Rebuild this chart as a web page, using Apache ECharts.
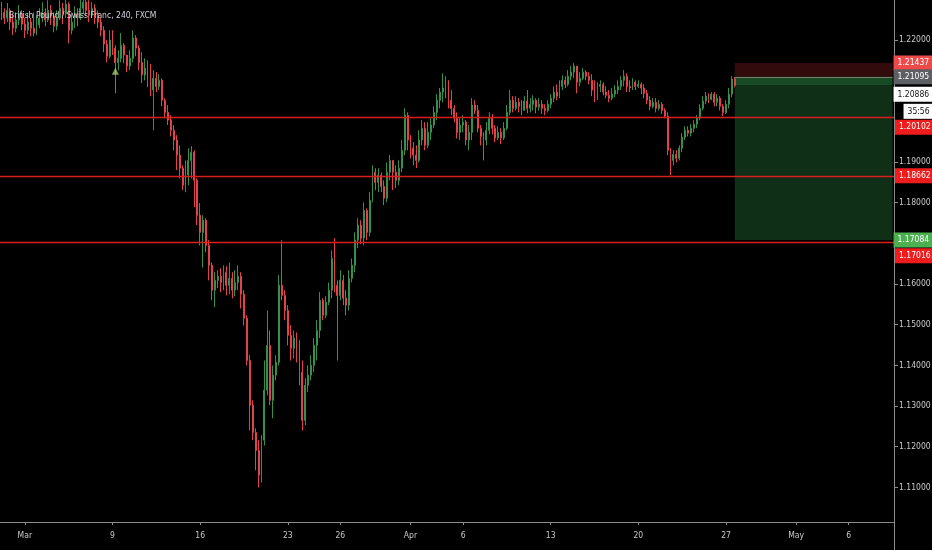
<!DOCTYPE html>
<html><head><meta charset="utf-8">
<script src="https://cdn.jsdelivr.net/npm/echarts@6/dist/echarts.min.js"></script>
<style>html,body{margin:0;padding:0;background:#000;}#c{width:932px;height:550px;}</style>
</head><body><div id="c"></div>
<script>
// ---- data (4h bars, bar 0 = first bar of Mar 2) ----
const firstBar = -8;
const lastBar = 297;
const firstOpen = 1.2280;
const closes = [
1.2268,1.2254,1.2273,1.2244,1.2229,1.2249,1.2264,1.2239,1.2224,1.2244,
1.2229,1.2217,1.2237,1.2254,1.2268,1.2249,1.2273,1.2259,1.2234,1.2254,
1.2278,1.2264,1.2288,1.2224,1.2244,1.2264,1.2254,1.2278,1.2293,1.2273,
1.2261,1.2278,1.2264,1.2244,1.2224,1.2190,1.2160,1.2200,1.2180,1.2145,
1.2155,1.2187,1.2163,1.2136,1.2155,1.2205,1.2180,1.2145,1.2114,1.2131,
1.2101,1.2077,1.2106,1.2086,1.2101,1.2052,1.2022,1.2003,1.1978,1.1954,
1.1917,1.1885,1.1843,1.1868,1.1904,1.1924,1.1855,1.1769,1.1727,1.1757,
1.1695,1.1646,1.1585,1.1609,1.1619,1.1604,1.1629,1.1597,1.1614,1.1585,
1.1604,1.1619,1.1575,1.1516,1.1412,1.1302,1.1235,1.1191,1.1130,1.1216,
1.1339,1.1449,1.1314,1.1376,1.1408,1.1597,1.1572,1.1535,1.1474,1.1442,
1.1467,1.1437,1.1383,1.1265,1.1351,1.1376,1.1400,1.1449,1.1486,1.1560,
1.1523,1.1555,1.1585,1.1663,1.1597,1.1572,1.1609,1.1565,1.1548,1.1614,
1.1646,1.1708,1.1745,1.1713,1.1781,1.1727,1.1806,1.1875,1.1850,1.1868,
1.1840,1.1811,1.1875,1.1904,1.1875,1.1855,1.1885,1.1929,1.2015,1.1954,
1.1934,1.1917,1.1904,1.1954,1.1983,1.1941,1.1973,1.1991,1.2022,1.2052,
1.2072,1.2082,1.2089,1.2052,1.2032,1.2008,1.1973,1.1991,1.1998,1.1954,
1.1973,1.2040,1.2027,1.1983,1.1963,1.1954,1.1978,1.2008,1.1983,1.1959,
1.1973,1.1959,1.1983,1.2022,1.2052,1.2032,1.2047,1.2037,1.2027,1.2050,
1.2032,1.2042,1.2052,1.2035,1.2042,1.2032,1.2027,1.2042,1.2057,1.2072,
1.2062,1.2086,1.2101,1.2091,1.2111,1.2121,1.2136,1.2096,1.2106,1.2121,
1.2111,1.2101,1.2077,1.2057,1.2086,1.2091,1.2072,1.2064,1.2057,1.2067,
1.2077,1.2086,1.2101,1.2111,1.2086,1.2082,1.2096,1.2086,1.2091,1.2082,
1.2069,1.2052,1.2037,1.2047,1.2032,1.2042,1.2027,1.2013,1.1929,1.1904,
1.1919,1.1909,1.1934,1.1961,1.1978,1.1971,1.1983,1.1993,1.2008,1.2032,
1.2050,1.2062,1.2054,1.2067,1.2047,1.2057,1.2037,1.2022,1.2042,1.2067,
1.2104,1.20886
];
const highs = [
1.2293,1.2278,1.2291,1.2278,1.2261,1.2268,1.2286,1.2273,1.2254,1.2264,
1.2254,1.2268,1.2261,1.2278,1.2293,1.2278,1.2298,1.2286,1.2268,1.2273,
1.2298,1.2291,1.2310,1.2293,1.2268,1.2283,1.2278,1.2310,1.2310,1.2303,
1.2298,1.2293,1.2288,1.2273,1.2254,1.2234,1.2200,1.2224,1.2224,1.2187,
1.2175,1.2217,1.2192,1.2163,1.2175,1.2224,1.2212,1.2187,1.2170,1.2155,
1.2150,1.2141,1.2126,1.2121,1.2116,1.2106,1.2057,1.2040,1.2015,1.1991,
1.1966,1.1941,1.1892,1.1904,1.1934,1.1939,1.1929,1.1860,1.1799,1.1769,
1.1762,1.1708,1.1653,1.1629,1.1634,1.1639,1.1646,1.1644,1.1653,1.1629,
1.1634,1.1646,1.1629,1.1585,1.1523,1.1425,1.1314,1.1245,1.1216,1.1228,
1.1412,1.1535,1.1486,1.1400,1.1425,1.1622,1.1708,1.1585,1.1548,1.1499,
1.1486,1.1481,1.1462,1.1412,1.1368,1.1400,1.1425,1.1467,1.1511,1.1580,
1.1565,1.1570,1.1604,1.1683,1.1713,1.1609,1.1634,1.1622,1.1585,1.1634,
1.1663,1.1727,1.1762,1.1757,1.1801,1.1786,1.1826,1.1892,1.1885,1.1885,
1.1875,1.1855,1.1899,1.1917,1.1904,1.1892,1.1904,1.1954,1.2032,1.2022,
1.1966,1.1949,1.1941,1.1978,1.2003,1.1998,1.1998,1.2008,1.2037,1.2067,
1.2082,1.2118,1.2111,1.2101,1.2077,1.2040,1.2022,1.2008,1.2015,1.2003,
1.1991,1.2057,1.2052,1.2040,1.1991,1.1973,1.1998,1.2022,1.2018,1.1991,
1.1988,1.1983,1.1998,1.2040,1.2077,1.2062,1.2062,1.2057,1.2052,1.2062,
1.2077,1.2057,1.2064,1.2057,1.2057,1.2052,1.2042,1.2052,1.2067,1.2086,
1.2091,1.2101,1.2113,1.2111,1.2126,1.2136,1.2143,1.2136,1.2121,1.2131,
1.2126,1.2121,1.2116,1.2101,1.2096,1.2101,1.2096,1.2086,1.2077,1.2082,
1.2089,1.2101,1.2111,1.2126,1.2118,1.2101,1.2106,1.2101,1.2101,1.2096,
1.2091,1.2077,1.2062,1.2057,1.2057,1.2052,1.2047,1.2032,1.2022,1.1934,
1.1929,1.1929,1.1941,1.1971,1.1988,1.1988,1.1993,1.2003,1.2015,1.2042,
1.2062,1.2072,1.2069,1.2072,1.2072,1.2067,1.2062,1.2042,1.2052,1.2082,
1.2111,1.2109
];
const lows = [
1.2249,1.2239,1.2244,1.2224,1.2212,1.2219,1.2237,1.2224,1.2205,1.2214,
1.2209,1.2209,1.2212,1.2229,1.2244,1.2234,1.2244,1.2237,1.2219,1.2224,
1.2249,1.2239,1.2254,1.2192,1.2214,1.2229,1.2234,1.2249,1.2264,1.2259,
1.2244,1.2254,1.2239,1.2229,1.2209,1.2170,1.2145,1.2155,1.2163,1.2069,
1.2126,1.2145,1.2143,1.2121,1.2126,1.2145,1.2160,1.2126,1.2094,1.2101,
1.2084,1.2062,1.1978,1.2072,1.2077,1.2037,1.2008,1.1991,1.1963,1.1929,
1.1880,1.1860,1.1831,1.1826,1.1843,1.1860,1.1789,1.1745,1.1695,1.1641,
1.1678,1.1609,1.1560,1.1543,1.1590,1.1580,1.1585,1.1572,1.1575,1.1565,
1.1570,1.1585,1.1540,1.1498,1.1400,1.1240,1.1216,1.1142,1.1100,1.1112,
1.1203,1.1326,1.1302,1.1270,1.1363,1.1400,1.1560,1.1511,1.1449,1.1412,
1.1417,1.1407,1.1351,1.1240,1.1253,1.1334,1.1363,1.1383,1.1412,1.1467,
1.1511,1.1516,1.1548,1.1565,1.1580,1.1412,1.1560,1.1548,1.1523,1.1535,
1.1604,1.1629,1.1688,1.1698,1.1695,1.1708,1.1717,1.1801,1.1831,1.1826,
1.1826,1.1794,1.1801,1.1855,1.1831,1.1836,1.1843,1.1875,1.1917,1.1929,
1.1909,1.1892,1.1885,1.1899,1.1941,1.1929,1.1934,1.1954,1.1983,1.2003,
1.2032,1.2047,1.2057,1.2032,1.2015,1.1998,1.1958,1.1954,1.1973,1.1941,
1.1929,1.1954,1.2018,1.1973,1.1941,1.1904,1.1941,1.1968,1.1968,1.1949,
1.1954,1.1944,1.1954,1.1978,1.2015,1.2022,1.2027,1.2022,1.2015,1.2027,
1.2020,1.2022,1.2027,1.2020,1.2027,1.2018,1.2015,1.2022,1.2032,1.2047,
1.2052,1.2057,1.2077,1.2082,1.2086,1.2101,1.2106,1.2069,1.2086,1.2101,
1.2101,1.2091,1.2062,1.2047,1.2052,1.2072,1.2064,1.2057,1.2047,1.2052,
1.2059,1.2067,1.2077,1.2086,1.2072,1.2072,1.2077,1.2077,1.2082,1.2067,
1.2057,1.2042,1.2027,1.2032,1.2022,1.2027,1.2018,1.2008,1.1917,1.1868,
1.1892,1.1899,1.1904,1.1924,1.1954,1.1963,1.1963,1.1973,1.1983,1.2003,
1.2027,1.2042,1.2045,1.2052,1.2037,1.2037,1.2027,1.2013,1.2018,1.2032,
1.2059,1.2084
];
const tickBars = [0, 30, 60, 90, 108, 132, 150, 180, 210, 240, 264, 282];
const tickLabels = ['Mar', '9', '16', '23', '26', 'Apr', '6', '13', '20', '27', 'May', '6'];
const priceTicks = [1.11, 1.12, 1.13, 1.14, 1.15, 1.16, 1.17, 1.18, 1.19, 1.20, 1.21, 1.22];
const priceLabels = [1.11, 1.12, 1.13, 1.14, 1.15, 1.16, 1.18, 1.19, 1.22];
const levelLines = [1.20102, 1.18662, 1.17016];
const levelOffsets = [10, 0, 13];
const stopPrice = 1.21437;
const entryPrice = 1.21095;
const targetPrice = 1.17084;
const currentPrice = 1.20886;
const countdown = '35:56';
const positionStartBar = 243;
const signalBar = 31;
const signalPrice = 1.2123;
const titleText = 'British Pound / Swiss Franc, 240, FXCM';

// ---- build ----
const FONT = "'DejaVu Sans Condensed','Liberation Sans Narrow',sans-serif";
const cats = [];
for (let b = firstBar; b <= lastBar; b++) cats.push(String(b));
const candles = closes.map((c, k) => [k === 0 ? firstOpen : closes[k - 1], c, lows[k], highs[k]]);
const tickMap = {};
tickBars.forEach((b, j) => { tickMap[b - firstBar] = tickLabels[j]; });
const isTick = idx => tickMap[idx] !== undefined;
const sCat = String(positionStartBar), eCat = String(lastBar);

const badge = (bg, fg, text, offY, offX) => ({
  show: true, position: 'end', formatter: text, backgroundColor: bg, color: fg,
  fontSize: 8.5, fontFamily: FONT, padding: [3, 4, 3, 4], distance: 1,
  offset: [offX || 0, offY || 0]
});

const lineData = levelLines.map((v, j) => ({
  yAxis: v,
  lineStyle: { color: '#d81e1e', width: 1.3, type: 'solid' },
  label: badge('#ee1c1c', '#ffffff', v.toFixed(5), levelOffsets[j])
}));
const hidden = { color: 'rgba(0,0,0,0)', width: 0 };
lineData.push([{ coord: [sCat, stopPrice], lineStyle: hidden, label: badge('#ef4a4a', '#ffffff', stopPrice.toFixed(5)) }, { coord: [eCat, stopPrice] }]);
lineData.push([{ coord: [sCat, entryPrice], lineStyle: { color: '#7b7f70', width: 1, type: 'solid' }, label: badge('#5d5f63', '#ffffff', entryPrice.toFixed(5)) }, { coord: [eCat, entryPrice] }]);
lineData.push([{ coord: [sCat, currentPrice], lineStyle: hidden, label: badge('#ffffff', '#111111', currentPrice.toFixed(5), 9) }, { coord: [eCat, currentPrice] }]);
lineData.push([{ coord: [sCat, currentPrice], lineStyle: hidden, label: badge('#ffffff', '#111111', countdown, 26, 10) }, { coord: [eCat, currentPrice] }]);
lineData.push([{ coord: [sCat, targetPrice], lineStyle: hidden, label: badge('#4caf50', '#ffffff', targetPrice.toFixed(5)) }, { coord: [eCat, targetPrice] }]);

const chart = echarts.init(document.getElementById('c'), null, { renderer: 'canvas' });
chart.setOption({
  backgroundColor: '#000000',
  animation: false,
  title: { text: titleText, left: 4, top: 6, textStyle: { color: '#d1d4dc', fontSize: 8.5, fontWeight: 'normal', fontFamily: FONT } },
  grid: { left: 0, right: 38, top: 0, bottom: 28, containLabel: false, outerBoundsMode: 'none' },
  xAxis: {
    type: 'category', data: cats, boundaryGap: true,
    axisLine: { lineStyle: { color: '#8a8a8a', width: 1 } },
    axisTick: { show: true, interval: isTick, alignWithLabel: true, length: 3, lineStyle: { color: '#8a8a8a' } },
    axisLabel: { interval: isTick, formatter: (v, idx) => tickMap[idx] || '', color: '#c9c9c9', fontSize: 8.5, fontFamily: FONT, margin: 9 },
    splitLine: { show: false }
  },
  yAxis: {
    type: 'value', position: 'right', min: 1.10149, max: 1.22984, scale: true,
    axisLine: { show: true, lineStyle: { color: '#8a8a8a', width: 1 } },
    axisTick: { show: true, customValues: priceTicks, length: 4, lineStyle: { color: '#8a8a8a' } },
    axisLabel: { customValues: priceLabels, formatter: v => v.toFixed(5), color: '#c9c9c9', fontSize: 8.5, fontFamily: FONT, margin: 5 },
    splitLine: { show: false }
  },
  series: [
    {
      type: 'line', data: [], z: 1, silent: true,
      markLine: { symbol: 'none', silent: true, animation: false, precision: 5, data: lineData }
    },
    {
      type: 'line', data: [], z: 2, silent: true,
      markArea: {
        silent: true,
        data: [
          [{ coord: [sCat, stopPrice], itemStyle: { color: 'rgba(120,28,28,0.42)' } }, { coord: [eCat, entryPrice] }],
          [{ coord: [sCat, entryPrice], itemStyle: { color: 'rgba(45,135,70,0.55)' } }, { coord: [eCat, currentPrice] }],
          [{ coord: [sCat, currentPrice], itemStyle: { color: 'rgba(35,105,50,0.45)' } }, { coord: [eCat, targetPrice] }]
        ]
      }
    },
    {
      type: 'candlestick', data: candles, z: 3, barWidth: 1.4,
      itemStyle: { color: '#35904a', color0: '#e5414b', borderColor: '#35904a', borderColor0: '#e5414b', borderWidth: 1 }
    },
    {
      type: 'scatter', z: 4, data: [[String(signalBar), signalPrice]],
      symbol: 'triangle', symbolSize: 7, itemStyle: { color: '#9ccc65' }
    }
  ]
});
// extend the price-scale separator through the time-axis strip
const axisX = chart.getModel().getComponent('grid').coordinateSystem.getRect();
chart.setOption({
  graphic: [{ type: 'line', silent: true, shape: { x1: axisX.x + axisX.width + 0.5, y1: axisX.y + axisX.height, x2: axisX.x + axisX.width + 0.5, y2: 550 }, style: { stroke: '#8a8a8a', lineWidth: 1 } }]
});
</script></body></html>
